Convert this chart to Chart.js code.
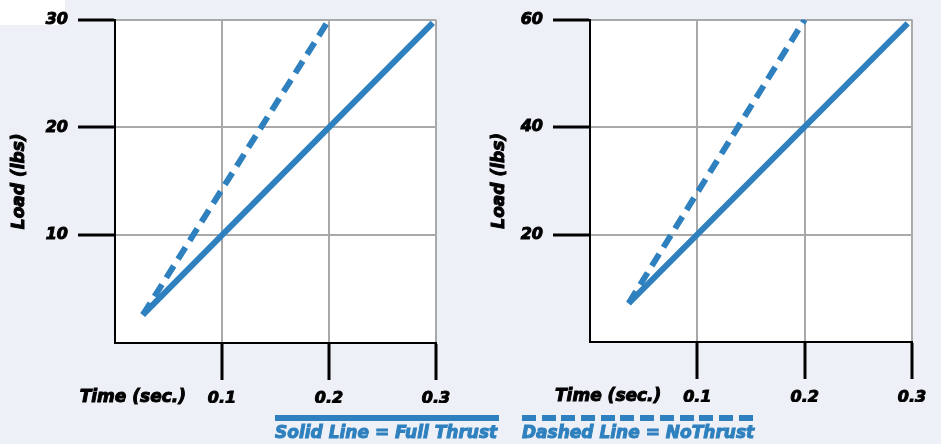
<!DOCTYPE html>
<html>
<head>
<meta charset="utf-8">
<script src="https://cdn.jsdelivr.net/npm/chart.js@4.4.0/dist/chart.umd.min.js"></script>
<style>
  body { margin: 0; width: 941px; height: 444px; overflow: hidden; position: relative; background: #edf0f7; font-family: "DejaVu Sans", sans-serif; }
  .box { position: absolute; top: 0; height: 444px; }
  .bar { position: absolute; top: 415px; height: 6px; }
  .key { position: absolute; top: 422px; font-size: 17px; font-weight: bold; font-style: italic; color: #2e80be; -webkit-text-stroke: 1px #2e80be; white-space: nowrap; line-height: 20px; }
  #corner { position: absolute; left: 0; top: 0; width: 65px; height: 25px; background: #fff; }
</style>
</head>
<body>
<div id="corner"></div>
<div class="box" style="left:0;width:470px"><canvas id="chartLeft"></canvas></div>
<div class="box" style="left:470px;width:471px"><canvas id="chartRight"></canvas></div>
<div class="bar" style="left:275px;width:224px;background:#2e80be"></div>
<div class="key" style="left:275px">Solid Line = Full Thrust</div>
<div class="bar" style="left:522px;width:231px;background:repeating-linear-gradient(to right,#2e80be 0 14px,transparent 14px 19.7px)"></div>
<div class="key" style="left:522px">Dashed Line = NoThrust</div>
<script>
// left chart (lbs vs sec)
const leftFullTime = [0.026, 0.297];
const leftFullLoad = [2.6, 29.7];
const leftNoTime = [0.026, 0.2];
const leftNoLoad = [2.6, 30];
const leftLoadMax = 30, leftLoadStep = 10;

// right chart
const rightFullTime = [0.036, 0.296];
const rightFullLoad = [7.2, 59.3];
const rightNoTime = [0.036, 0.2];
const rightNoLoad = [7.2, 60];
const rightLoadMax = 60, rightLoadStep = 20;

const timeMax = 0.3, timeStep = 0.1;
const timeTitle = "Time (sec.)";
const loadTitle = "Load (lbs)";

const blue = "#2e80be";
const gridGray = "#a9a9a9";
const font = { family: "DejaVu Sans", size: 16, weight: "bold", style: "italic" };

const whiteArea = {
  id: "whiteArea",
  beforeDraw(chart) {
    const a = chart.chartArea, ctx = chart.ctx;
    ctx.save();
    ctx.fillStyle = "#fff";
    ctx.fillRect(a.left, a.top, a.right - a.left, a.bottom - a.top);
    ctx.restore();
  }
};

// axis captions: "Time (sec.)" beside the x ticks, "Load (lbs)" rotated at the left
const captions = {
  id: "captions",
  afterDraw(chart) {
    const x = chart.scales.x, y = chart.scales.y, ctx = chart.ctx;
    ctx.save();
    ctx.font = 'italic bold 17px "DejaVu Sans"';
    ctx.fillStyle = "#000";
    ctx.strokeStyle = "#000";
    ctx.lineWidth = 1;
    ctx.textAlign = "right";
    ctx.textBaseline = "middle";
    const tx = x.getPixelForValue(timeStep) - 36, ty = x.top + 55;
    ctx.fillText(timeTitle, tx, ty);
    ctx.strokeText(timeTitle, tx, ty);
    ctx.translate(y.left + 20, (y.top + y.bottom) / 2);
    ctx.rotate(-Math.PI / 2);
    ctx.textAlign = "center";
    ctx.fillText(loadTitle, 0, 0);
    ctx.strokeText(loadTitle, 0, 0);
    ctx.restore();
  }
};

function pts(xs, ys) {
  return xs.map((x, i) => ({ x: x, y: ys[i] }));
}

function makeChart(id, full, none, yMax, yStep, pad, yWidth) {
  return new Chart(document.getElementById(id), {
    type: "line",
    data: {
      datasets: [
        { data: none, borderColor: blue, borderWidth: 6, borderDash: [14, 8], pointRadius: 0, tension: 0 },
        { data: full, borderColor: blue, borderWidth: 6, pointRadius: 0, tension: 0 }
      ]
    },
    options: {
      animation: false,
      responsive: true,
      maintainAspectRatio: false,
      devicePixelRatio: 1,
      layout: { padding: pad },
      plugins: { legend: { display: false }, tooltip: { enabled: false } },
      scales: {
        x: {
          type: "linear",
          min: 0,
          max: timeMax,
          afterFit(s) { s.height = 60; },
          ticks: {
            stepSize: timeStep,
            color: "#000",
            font: font,
            padding: 9,
            maxRotation: 0,
            textStrokeColor: "#000",
            textStrokeWidth: 1,
            callback: v => (v === 0 ? "" : v.toFixed(1))
          },
          grid: {
            color: c => (c.tick && c.tick.value === 0 ? "transparent" : gridGray),
            lineWidth: 2,
            tickLength: 37,
            tickWidth: 3,
            tickColor: c => (c.tick && c.tick.value === 0 ? "transparent" : "#000")
          },
          border: { color: "#000", width: 2 }
        },
        y: {
          min: 0,
          max: yMax,
          afterFit(s) { s.width = yWidth; },
          ticks: {
            stepSize: yStep,
            color: "#000",
            font: font,
            padding: 10,
            textStrokeColor: "#000",
            textStrokeWidth: 1,
            callback: v => (v === 0 ? "" : v)
          },
          grid: {
            color: c => (c.tick && c.tick.value === 0 ? "transparent" : gridGray),
            lineWidth: 2,
            tickLength: 37,
            tickWidth: 3,
            tickColor: c => (c.tick && c.tick.value === 0 ? "transparent" : "#000")
          },
          border: { color: "#000", width: 2 }
        }
      }
    },
    plugins: [whiteArea, captions]
  });
}

makeChart("chartLeft", pts(leftFullTime, leftFullLoad), pts(leftNoTime, leftNoLoad),
  leftLoadMax, leftLoadStep, { top: 19, right: 34, bottom: 41, left: 0 }, 115);
makeChart("chartRight", pts(rightFullTime, rightFullLoad), pts(rightNoTime, rightNoLoad),
  rightLoadMax, rightLoadStep, { top: 19, right: 29, bottom: 42, left: 10 }, 110);
</script>
</body>
</html>
